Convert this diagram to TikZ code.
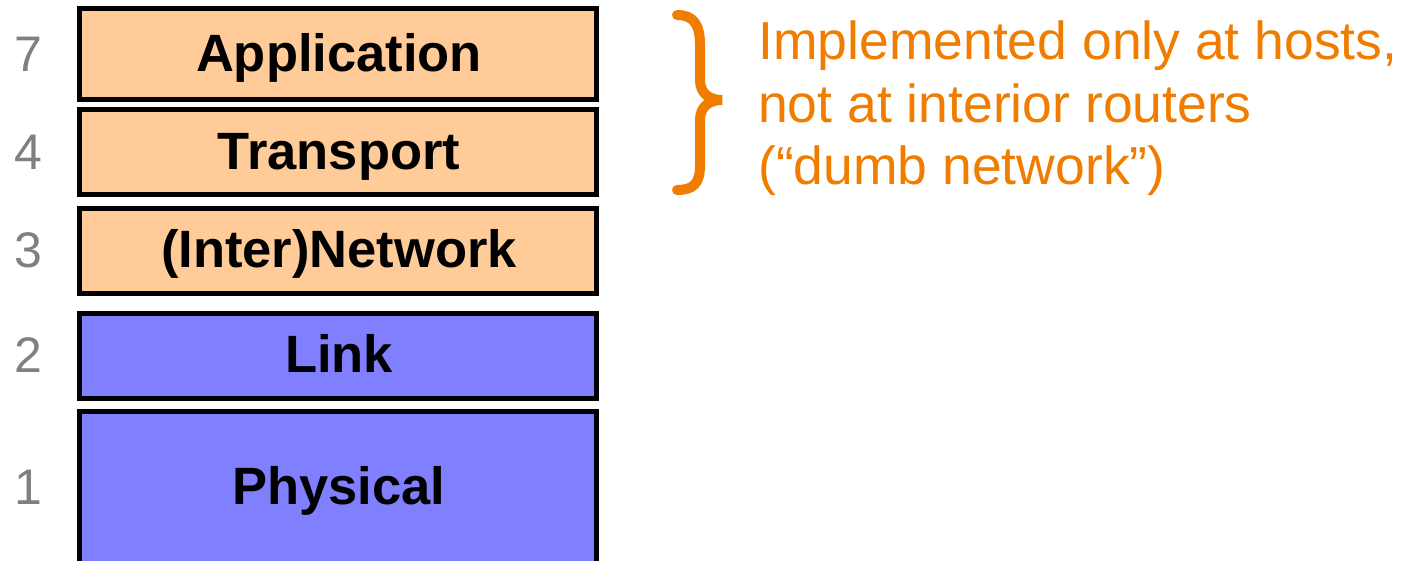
\documentclass[tikz,border=0pt]{standalone}
\usepackage{fontspec}
\setmainfont{Liberation Sans}
\definecolor{peach}{HTML}{FFCC99}
\definecolor{lavblue}{HTML}{8080FF}
\definecolor{numgray}{HTML}{808080}
\definecolor{annorange}{HTML}{F07C00}
\tikzset{
  layerbox/.style={draw=black, line width=5pt},
  layertext/.style={anchor=base, inner sep=0pt, font=\fontsize{52.5}{60}\selectfont\bfseries},
  layernum/.style={anchor=base, inner sep=0pt, text=numgray, font=\fontsize{50}{60}\selectfont},
  annot/.style={anchor=base west, inner sep=0pt, text=annorange, font=\fontsize{53.5}{62}\selectfont},
}
\begin{document}
\begin{tikzpicture}[x=1pt,y=-1pt]
\useasboundingbox (0,0) rectangle (1401,561);
% boxes
\draw[layerbox, fill=peach] (79.5,8.5) rectangle (596.5,99.5);
\draw[layerbox, fill=peach] (79.5,109.5) rectangle (596.5,194.5);
\draw[layerbox, fill=peach] (79.5,208.5) rectangle (596.5,293.5);
\draw[layerbox, fill=lavblue] (79.5,313.5) rectangle (596.5,398.5);
\draw[layerbox, fill=lavblue] (79.5,411.5) rectangle (596.5,566);
% labels
\node[layertext] (app) at (339,72) {Application};
\node[layertext] (trans) at (339,170) {Transport};
\node[layertext] (net) at (339,268) {(Inter)Network};
\node[layertext] (link) at (339,373) {Link};
\node[layertext] (phys) at (339,504) {Physical};
% numbers
\node[layernum] (n7) at (28,72) {7};
\node[layernum] (n4) at (28,170) {4};
\node[layernum] (n3) at (28,268) {3};
\node[layernum] (n2) at (28,373) {2};
\node[layernum] (n1) at (28,504) {1};
% brace
\draw[annorange, line width=10pt, line cap=round]
  (677,15) .. controls (694,15) and (700,25) .. (700,45) -- (700,80)
  .. controls (700,94) and (710,100) .. (722,100)
  .. controls (710,100) and (700,106) .. (700,120) -- (700,165)
  .. controls (700,183) and (694,190) .. (677,190);
% annotation
\node[annot] (a1) at (758,60) {Implemented only at hosts,};
\node[annot] (a2) at (758,122.5) {not at interior routers};
\node[annot] (a3) at (758,185) {(“dumb network”)};
\end{tikzpicture}
\end{document}
